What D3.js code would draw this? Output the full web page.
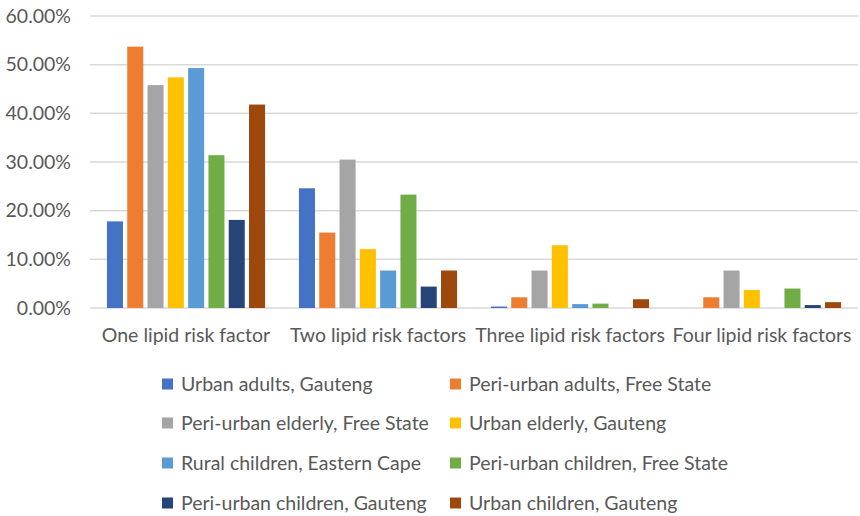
<!DOCTYPE html>
<html>
<head>
<meta charset="utf-8">
<script src="https://cdn.jsdelivr.net/npm/d3@7"></script>
<style>
  html, body { margin: 0; padding: 0; background: #fff; }
  svg { display: block; }
  text { font-family: Lato, "Open Sans", sans-serif; fill: #595959; }
</style>
</head>
<body>
<svg id="chart" width="860" height="516"></svg>
<script>
// Share of participants by number of lipid risk factors
const categories = ["One lipid risk factor", "Two lipid risk factors", "Three lipid risk factors", "Four lipid risk factors"];
const seriesNames = [
  "Urban adults, Gauteng",
  "Peri-urban adults, Free State",
  "Peri-urban elderly, Free State",
  "Urban elderly, Gauteng",
  "Rural children, Eastern Cape",
  "Peri-urban children, Free State",
  "Peri-urban children, Gauteng",
  "Urban children, Gauteng"
];
const seriesColors = ["#4472C4", "#ED7D31", "#A5A5A5", "#FFC000", "#5B9BD5", "#70AD47", "#264478", "#9E480E"];
// values per series, one per category (fractions)
const urbanAdultsGauteng       = [0.178, 0.246, 0.003, 0.000];
const periUrbanAdultsFS        = [0.537, 0.155, 0.022, 0.022];
const periUrbanElderlyFS       = [0.458, 0.305, 0.077, 0.077];
const urbanElderlyGauteng      = [0.474, 0.121, 0.129, 0.037];
const ruralChildrenEC          = [0.493, 0.077, 0.008, 0.000];
const periUrbanChildrenFS      = [0.314, 0.233, 0.009, 0.040];
const periUrbanChildrenGauteng = [0.181, 0.044, 0.000, 0.006];
const urbanChildrenGauteng     = [0.418, 0.077, 0.018, 0.012];
const seriesValues = [urbanAdultsGauteng, periUrbanAdultsFS, periUrbanElderlyFS, urbanElderlyGauteng,
                      ruralChildrenEC, periUrbanChildrenFS, periUrbanChildrenGauteng, urbanChildrenGauteng];
const yTicks = [0, 0.1, 0.2, 0.3, 0.4, 0.5, 0.6];

const svg = d3.select("#chart");
const plotLeft = 90, plotRight = 858, plotTop = 16, plotBottom = 308;
const fontSize = 19.5;

const x = d3.scaleBand().domain(categories).range([plotLeft, plotRight]).paddingInner(0).paddingOuter(0);
const xs = d3.scaleBand().domain(d3.range(seriesNames.length)).range([0, x.bandwidth()])
  .paddingInner(0.21).paddingOuter(0.835);
const y = d3.scaleLinear().domain([0, 0.6]).range([plotBottom, plotTop]);
const color = d3.scaleOrdinal().domain(d3.range(seriesNames.length)).range(seriesColors);

// gridlines
svg.append("g")
  .selectAll("line")
  .data(yTicks)
  .join("line")
  .attr("x1", plotLeft).attr("x2", plotRight)
  .attr("y1", d => y(d)).attr("y2", d => y(d))
  .attr("stroke", "#D9D9D9").attr("stroke-width", 1.5);

// y axis labels
const yAxis = svg.append("g")
  .attr("transform", `translate(${plotLeft},0)`)
  .call(d3.axisLeft(y).tickValues(yTicks).tickFormat(d3.format(".2%")).tickSize(0).tickPadding(19));
yAxis.select(".domain").remove();
yAxis.selectAll("text")
  .style("font-size", fontSize + "px")
  .style("font-family", "Lato, sans-serif")
  .attr("fill", "#595959");

// bars
const groups = svg.append("g")
  .selectAll("g")
  .data(categories)
  .join("g")
  .attr("transform", d => `translate(${x(d)},0)`);

groups.selectAll("rect")
  .data((c, ci) => seriesValues.map((vals, si) => ({ si, v: vals[ci] })))
  .join("rect")
  .attr("x", d => xs(d.si))
  .attr("width", xs.bandwidth())
  .attr("y", d => y(d.v))
  .attr("height", d => y(0) - y(d.v))
  .attr("fill", d => color(d.si));

// x axis labels
const xAxis = svg.append("g")
  .attr("transform", `translate(0,${plotBottom})`)
  .call(d3.axisBottom(x).tickSize(0).tickPadding(20));
xAxis.select(".domain").remove();
xAxis.selectAll("text")
  .style("font-size", fontSize + "px")
  .style("font-family", "Lato, sans-serif")
  .attr("fill", "#595959");

// legend, two columns
const legendCols = [162, 450];
const legendRows = [384, 423, 463, 503];
const legend = svg.append("g")
  .selectAll("g")
  .data(seriesNames)
  .join("g")
  .attr("transform", (d, i) => `translate(${legendCols[i % 2]},${legendRows[Math.floor(i / 2)]})`);
legend.append("rect")
  .attr("x", 0).attr("y", -5.5).attr("width", 11).attr("height", 11)
  .attr("fill", (d, i) => color(i));
legend.append("text")
  .attr("x", 19).attr("y", 0).attr("dy", "0.35em")
  .style("font-size", fontSize + "px")
  .text(d => d);
</script>
</body>
</html>
